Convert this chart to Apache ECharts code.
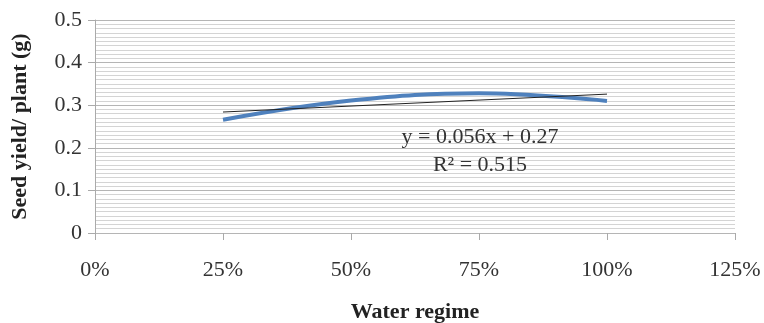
<!DOCTYPE html>
<html>
<head>
<meta charset="utf-8">
<script src="https://cdn.jsdelivr.net/npm/echarts@6/dist/echarts.min.js"></script>
<style>
    html, body { margin: 0; padding: 0; background: #fff; }
    #chart { width: 764px; height: 323px; }
</style>
</head>
<body>
<div id="chart"></div>
<script>
// water regime (fraction of full irrigation) and seed yield per plant (g)
var waterRegime = [0.25, 0.50, 0.75, 1.00];
var seedYield = [0.266, 0.311, 0.328, 0.310];
// linear trend line end points (y = 0.056x + 0.27)
var trendX = [0.25, 1.00];
var trendY = [0.284, 0.326];
var trendLabels = ['y = 0.056x + 0.27', 'R\u00b2 = 0.515'];

var chart = echarts.init(document.getElementById('chart'));

var fontFam = '"Liberation Serif", "Times New Roman", serif';

chart.setOption({
    animation: false,
    backgroundColor: '#fff',
    grid: {
        left: 95,
        right: 29,
        top: 20,
        bottom: 90,
        outerBoundsMode: 'none'
    },
    xAxis: {
        type: 'value',
        min: 0,
        max: 1.25,
        interval: 0.25,
        name: 'Water regime',
        nameLocation: 'middle',
        nameGap: 68,
        nameTextStyle: { fontFamily: fontFam, fontSize: 22, fontWeight: 'bold', color: '#222' },
        axisLine: { show: false },
        axisTick: { show: true, length: 7, lineStyle: { color: '#aaa' } },
        axisLabel: {
            margin: 26,
            fontFamily: fontFam,
            fontSize: 22,
            color: '#333',
            formatter: function (v) { return Math.round(v * 100) + '%'; }
        },
        splitLine: { show: false }
    },
    yAxis: {
        type: 'value',
        min: 0,
        max: 0.5,
        interval: 0.1,
        name: 'Seed yield/ plant (g)',
        nameLocation: 'middle',
        nameGap: 64,
        nameRotate: 90,
        nameTextStyle: { fontFamily: fontFam, fontSize: 22, fontWeight: 'bold', color: '#222' },
        axisLine: { show: true, lineStyle: { color: '#aaa' } },
        axisTick: { show: true, length: 7, lineStyle: { color: '#aaa' } },
        axisLabel: {
            margin: 13,
            fontFamily: fontFam,
            fontSize: 22,
            color: '#333',
            formatter: function (v) { return v === 0 ? '0' : v.toFixed(1); }
        },
        splitLine: { show: true, lineStyle: { color: '#b5b5b5', width: 1 } },
        minorTick: { show: false, splitNumber: 10 },
        minorSplitLine: { show: true, lineStyle: { color: '#d4d4d4', width: 1 } }
    },
    series: [
        {
            name: 'Seed yield',
            type: 'line',
            smooth: 0.4,
            symbol: 'none',
            data: waterRegime.map(function (x, i) { return [x, seedYield[i]]; }),
            lineStyle: { color: '#4f81bd', width: 4 },
            z: 3
        },
        {
            name: 'Linear',
            type: 'line',
            symbol: 'none',
            data: trendX.map(function (x, i) { return [x, trendY[i]]; }),
            lineStyle: { color: '#222', width: 1 },
            z: 4
        }
    ],
    graphic: [
        {
            type: 'text',
            x: 480,
            y: 137,
            z: 10,
            style: {
                text: trendLabels[0],
                fontFamily: fontFam,
                fontSize: 22,
                fill: '#333',
                lineWidth: 0,
                align: 'center',
                verticalAlign: 'middle'
            }
        },
        {
            type: 'text',
            x: 480,
            y: 165,
            z: 10,
            style: {
                text: trendLabels[1],
                fontFamily: fontFam,
                fontSize: 22,
                fill: '#333',
                lineWidth: 0,
                align: 'center',
                verticalAlign: 'middle'
            }
        }
    ]
});

window.onresize = function () {
    chart.resize();
};
</script>
</body>
</html>
